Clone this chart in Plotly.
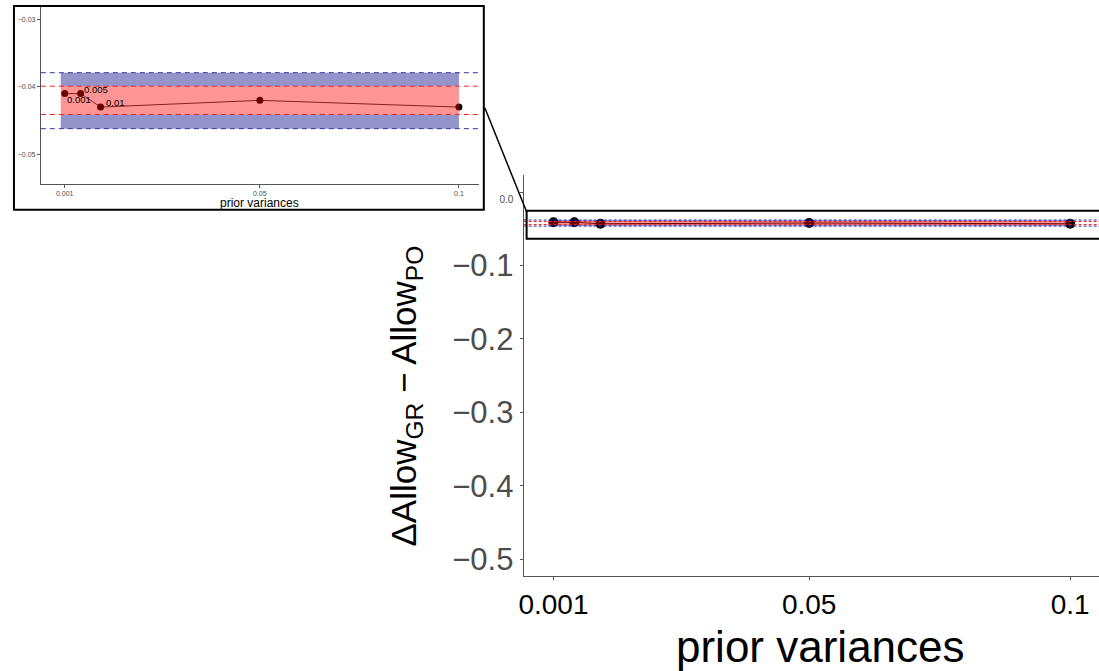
import plotly.graph_objects as go

# ---- data ----
prior_var = [0.001, 0.005, 0.01, 0.05, 0.1]
delta_allow = [-0.0410, -0.0410, -0.0430, -0.0420, -0.0430]
point_labels = ["0.001", "0.005", "0.01"]
red_band = [-0.0441, -0.0399]      # inner interval
blue_band = [-0.0462, -0.0379]     # outer interval
band_x = [0.0, 0.1]
x_tickvals = [0.001, 0.05, 0.1]
x_ticktext = ["0.001", "0.05", "0.1"]
main_y_tickvals = [0.0, -0.1, -0.2, -0.3, -0.4, -0.5]
main_y_ticktext = ["<span style='font-size:10px'>0.0</span>", "\u22120.1", "\u22120.2", "\u22120.3", "\u22120.4", "\u22120.5"]
inset_y_tickvals = [-0.03, -0.04, -0.05]
inset_y_ticktext = ["\u22120.03", "\u22120.04", "\u22120.05"]

W, H = 1099, 671
def px(x): return x / W
def py(y): return 1 - y / H

FONT = "Liberation Sans, Arial, sans-serif"
RED_FILL = "rgba(255,0,0,0.42)"
BLUE_FILL = "rgba(0,0,128,0.42)"
RED_LINE = "rgb(255,30,30)"
BLUE_LINE = "rgb(50,50,170)"

fig = go.Figure()

# main panel series
fig.add_trace(go.Scatter(x=prior_var, y=delta_allow, mode="lines+markers",
                         line=dict(color="black", width=1),
                         marker=dict(color="black", size=10),
                         xaxis="x", yaxis="y", showlegend=False))
# inset series
fig.add_trace(go.Scatter(x=prior_var, y=delta_allow, mode="lines+markers",
                         line=dict(color="black", width=0.8),
                         marker=dict(color="black", size=7),
                         xaxis="x2", yaxis="y2", showlegend=False))

shapes = []
for xr, yr, dash, lw in [("x", "y", "3px,2px", 1), ("x2", "y2", "5px,4px", 1)]:
    # blue outer band pieces
    shapes.append(dict(type="rect", xref=xr, yref=yr, x0=band_x[0], x1=band_x[1],
                       y0=red_band[1], y1=blue_band[1], fillcolor=BLUE_FILL,
                       line=dict(width=0), layer="above"))
    shapes.append(dict(type="rect", xref=xr, yref=yr, x0=band_x[0], x1=band_x[1],
                       y0=blue_band[0], y1=red_band[0], fillcolor=BLUE_FILL,
                       line=dict(width=0), layer="above"))
    # red inner band
    shapes.append(dict(type="rect", xref=xr, yref=yr, x0=band_x[0], x1=band_x[1],
                       y0=red_band[0], y1=red_band[1], fillcolor=RED_FILL,
                       line=dict(width=0), layer="above"))
    for v in blue_band:
        shapes.append(dict(type="line", xref=xr + " domain", yref=yr, x0=0, x1=1, y0=v, y1=v,
                           line=dict(color=BLUE_LINE, width=lw, dash=dash), layer="above"))
    for v in red_band:
        shapes.append(dict(type="line", xref=xr + " domain", yref=yr, x0=0, x1=1, y0=v, y1=v,
                           line=dict(color=RED_LINE, width=lw, dash=dash), layer="above"))

# inset frame, zoom box and connector
shapes.append(dict(type="rect", xref="paper", yref="paper", x0=px(9), x1=px(481), y0=py(210), y1=py(6),
                   line=dict(color="black", width=2), fillcolor="rgba(0,0,0,0)"))
shapes.append(dict(type="rect", xref="paper", yref="paper", x0=px(524), x1=px(1102), y0=py(239), y1=py(211),
                   line=dict(color="black", width=2), fillcolor="rgba(0,0,0,0)"))
shapes.append(dict(type="line", xref="paper", yref="paper", x0=px(482), x1=px(524), y0=py(108), y1=py(212),
                   line=dict(color="black", width=1.5)))

annotations = []
# point labels in inset
offsets = [(0, -6), (1, 4), (3, 5)]
for lab, xv, yv, (dx, dy) in zip(point_labels, prior_var, delta_allow, offsets):
    annotations.append(dict(x=xv, y=yv, xref="x2", yref="y2", text=lab, showarrow=False,
                            xanchor="left", yanchor="middle", xshift=dx, yshift=dy,
                            font=dict(family=FONT, size=9.5, color="black")))
# titles
annotations.append(dict(x=px(256), y=py(203), xref="paper", yref="paper", text="prior variances",
                        showarrow=False, xanchor="center", yanchor="middle",
                        font=dict(family=FONT, size=12, color="black")))
annotations.append(dict(x=px(819), y=py(647), xref="paper", yref="paper", text="prior variances",
                        showarrow=False, xanchor="center", yanchor="middle",
                        font=dict(family=FONT, size=44, color="black")))
annotations.append(dict(x=px(403), y=py(397), xref="paper", yref="paper",
                        text="\u0394Allow<sub>GR</sub> \u2212 Allow<sub>PO</sub>",
                        showarrow=False, textangle=-90, xanchor="center", yanchor="middle",
                        font=dict(family=FONT, size=35, color="black")))

axis_common = dict(showgrid=False, zeroline=False, showline=True, linecolor="#555555",
                   linewidth=1, ticks="outside", tickcolor="#555555", mirror=False)

fig.update_layout(
    width=W, height=H, autosize=False,
    margin=dict(l=0, r=0, t=0, b=0),
    paper_bgcolor="white", plot_bgcolor="white",
    font=dict(family=FONT),
    showlegend=False,
    xaxis=dict(domain=[px(521), 1.0], range=[-0.00472, 0.10553], anchor="y",
               tickvals=x_tickvals, ticktext=x_ticktext, ticklen=3,
               tickfont=dict(family=FONT, size=28, color="black"), **axis_common),
    yaxis=dict(domain=[py(577), py(175)], range=[-0.5231, 0.0238], anchor="x",
               tickvals=main_y_tickvals, ticktext=main_y_ticktext, ticklen=3,
               tickfont=dict(family=FONT, size=31, color="#4d4d4d"), **axis_common),
    xaxis2=dict(domain=[px(36), px(476)], range=[-0.005, 0.105], anchor="y2",
                tickvals=x_tickvals, ticktext=x_ticktext, ticklen=3,
                tickfont=dict(family=FONT, size=7, color="#4d4d4d"), **axis_common),
    yaxis2=dict(domain=[py(184), py(7)], range=[-0.05437, -0.02815], anchor="x2",
                tickvals=inset_y_tickvals, ticktext=inset_y_ticktext, ticklen=3,
                tickfont=dict(family=FONT, size=7, color="#4d4d4d"), **axis_common),
    shapes=shapes, annotations=annotations,
)

fig.write_html("out.html")
